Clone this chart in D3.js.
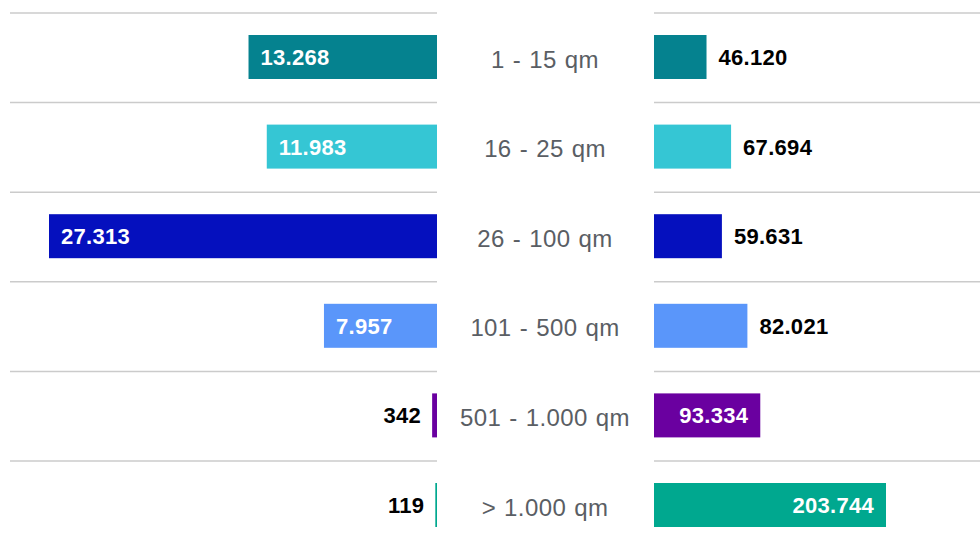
<!DOCTYPE html>
<html>
<head>
<meta charset="utf-8">
<script src="https://cdn.jsdelivr.net/npm/d3@7"></script>
<style>
  body { margin: 0; background: #fff; }
  svg { display: block; font-family: "Liberation Sans", Arial, sans-serif; }
</style>
</head>
<body>
<div id="chart"></div>
<script>
// categories and values
const categories = ["1 - 15 qm", "16 - 25 qm", "26 - 100 qm", "101 - 500 qm", "501 - 1.000 qm", "> 1.000 qm"];
const leftValues = [13268, 11983, 27313, 7957, 342, 119];
const rightValues = [46120, 67694, 59631, 82021, 93334, 203744];
const colors = ["#05828f", "#35c6d4", "#0510be", "#5a96fa", "#6a00a0", "#00a88f"];

const width = 980, height = 540;
const fmt = d3.formatLocale({ decimal: ",", thousands: ".", grouping: [3], currency: ["", ""] }).format(",d");

let svg = d3.select("#chart")
    .append("svg")
    .attr("width", width)
    .attr("height", height);

let y = d3.scaleBand()
    .domain(categories)
    .range([13, 13 + 6 * 89.6]);

// left side grows leftwards from x = 437
let xLeft = d3.scaleLinear()
    .domain([0, d3.max(leftValues)])
    .range([437, 49]);

// right side grows rightwards from x = 654
let xRight = d3.scaleLinear()
    .domain([0, d3.max(rightValues)])
    .range([654, 886]);

const barOffset = 22, barH = 44;

// grid lines on top of every row
let grid = svg.append("g");
grid.selectAll("line.l")
    .data(categories)
    .enter().append("line")
    .attr("class", "l")
    .attr("x1", 10).attr("x2", 437)
    .attr("y1", d => y(d)).attr("y2", d => y(d))
    .attr("stroke", "#cbcbcb").attr("stroke-width", 1.5);
grid.selectAll("line.r")
    .data(categories)
    .enter().append("line")
    .attr("class", "r")
    .attr("x1", 654).attr("x2", 980)
    .attr("y1", d => y(d)).attr("y2", d => y(d))
    .attr("stroke", "#cbcbcb").attr("stroke-width", 1.5);

let rows = categories.map((c, i) => ({ cat: c, left: leftValues[i], right: rightValues[i], color: colors[i] }));

// left bars
svg.append("g").selectAll("rect")
    .data(rows)
    .enter().append("rect")
    .attr("x", d => xLeft(d.left))
    .attr("y", d => y(d.cat) + barOffset)
    .attr("width", d => xLeft(0) - xLeft(d.left))
    .attr("height", barH)
    .attr("fill", d => d.color);

// right bars
svg.append("g").selectAll("rect")
    .data(rows)
    .enter().append("rect")
    .attr("x", xRight(0))
    .attr("y", d => y(d.cat) + barOffset)
    .attr("width", d => xRight(d.right) - xRight(0))
    .attr("height", barH)
    .attr("fill", d => d.color);

// value labels: inside the bar at its outer end when it fits, else outside
const pad = 12;
const fits = w => w > 100;

svg.append("g").selectAll("text")
    .data(rows)
    .enter().append("text")
    .each(function (d) {
        let w = xLeft(0) - xLeft(d.left);
        let inside = fits(w);
        d3.select(this)
            .attr("x", inside ? xLeft(d.left) + pad : xLeft(d.left) - 11)
            .attr("text-anchor", inside ? "start" : "end")
            .attr("fill", inside ? "#fff" : "#000");
    })
    .attr("y", d => y(d.cat) + barOffset + barH / 2)
    .attr("dy", "0.36em")
    .attr("font-size", 22)
    .attr("letter-spacing", 0.3)
    .attr("font-weight", "bold")
    .text(d => fmt(d.left));

svg.append("g").selectAll("text")
    .data(rows)
    .enter().append("text")
    .each(function (d) {
        let w = xRight(d.right) - xRight(0);
        let inside = fits(w);
        d3.select(this)
            .attr("x", inside ? xRight(d.right) - pad : xRight(d.right) + pad)
            .attr("text-anchor", inside ? "end" : "start")
            .attr("fill", inside ? "#fff" : "#000");
    })
    .attr("y", d => y(d.cat) + barOffset + barH / 2)
    .attr("dy", "0.36em")
    .attr("font-size", 22)
    .attr("letter-spacing", 0.3)
    .attr("font-weight", "bold")
    .text(d => fmt(d.right));

// category names in the middle
svg.append("g").selectAll("text")
    .data(categories)
    .enter().append("text")
    .attr("x", 545)
    .attr("y", d => y(d) + barOffset + barH / 2 + 2)
    .attr("dy", "0.36em")
    .attr("text-anchor", "middle")
    .attr("font-size", 24)
    .attr("letter-spacing", 0.4)
    .attr("word-spacing", 1)
    .attr("fill", "#5a5e64")
    .text(d => d);
</script>
</body>
</html>
